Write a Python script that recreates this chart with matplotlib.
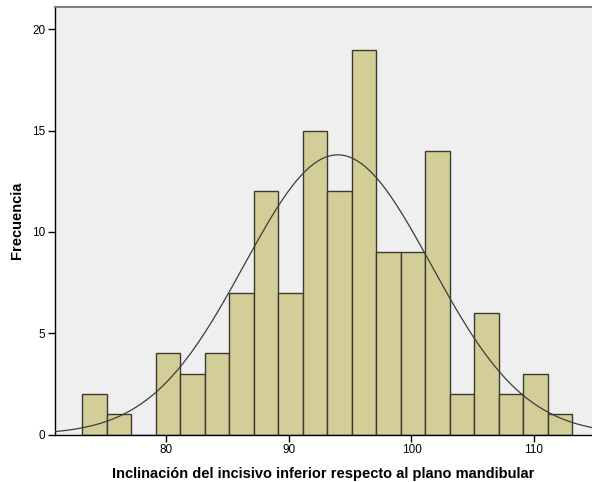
import numpy as np
import matplotlib.pyplot as plt

plt.rcParams['font.family'] = ['Liberation Sans', 'DejaVu Sans']

# Histogram bins (left edges, width 2) and observed frequencies
bin_width = 2.0
bin_start = 73.13
counts = [2, 1, 0, 4, 3, 4, 7, 12, 7, 15, 12, 19, 9, 9, 14, 2, 6, 2, 3, 1]
bin_lefts = [bin_start + i * bin_width for i in range(len(counts))]

# Fitted normal distribution parameters
mean = 93.98
std_dev = 7.63
n_total = sum(counts)

x_ticks = [80, 90, 100, 110]
y_ticks = [0, 5, 10, 15, 20]

fig = plt.figure(figsize=(5.92, 4.82), dpi=100)
ax = fig.add_axes([55 / 592, 47.5 / 482, 1 - 55 / 592, 427.5 / 482])
ax.set_facecolor('#efefef')

ax.bar(bin_lefts, counts, width=bin_width, align='edge',
       color='#d3ce97', edgecolor='#3a3a32', linewidth=1.0, zorder=2)

# Normal curve scaled to frequency counts
xs = np.linspace(70.9, 114.8, 400)
pdf = np.exp(-0.5 * ((xs - mean) / std_dev) ** 2) / (std_dev * np.sqrt(2 * np.pi))
ax.plot(xs, pdf * n_total * bin_width, color='#3c3c3c', linewidth=0.9, zorder=3)

ax.set_xlim(70.91, 114.73)
ax.set_ylim(0, 21.1)
ax.set_xticks(x_ticks)
ax.set_yticks(y_ticks)
ax.tick_params(axis='both', direction='out', length=5, width=1,
               labelsize=8.5, colors='black', pad=2)

for side in ['left', 'bottom']:
    ax.spines[side].set_color('black')
    ax.spines[side].set_linewidth(1)
ax.spines['top'].set_color('#808080')
ax.spines['top'].set_linewidth(1.5)
ax.spines['right'].set_visible(False)

ax.set_xlabel('Inclinación del incisivo inferior respecto al plano mandibular',
              fontsize=10.5, fontweight='bold', labelpad=8)
ax.set_ylabel('Frecuencia', fontsize=10.5, fontweight='bold', labelpad=6)

fig.savefig('out.png', dpi=100)
